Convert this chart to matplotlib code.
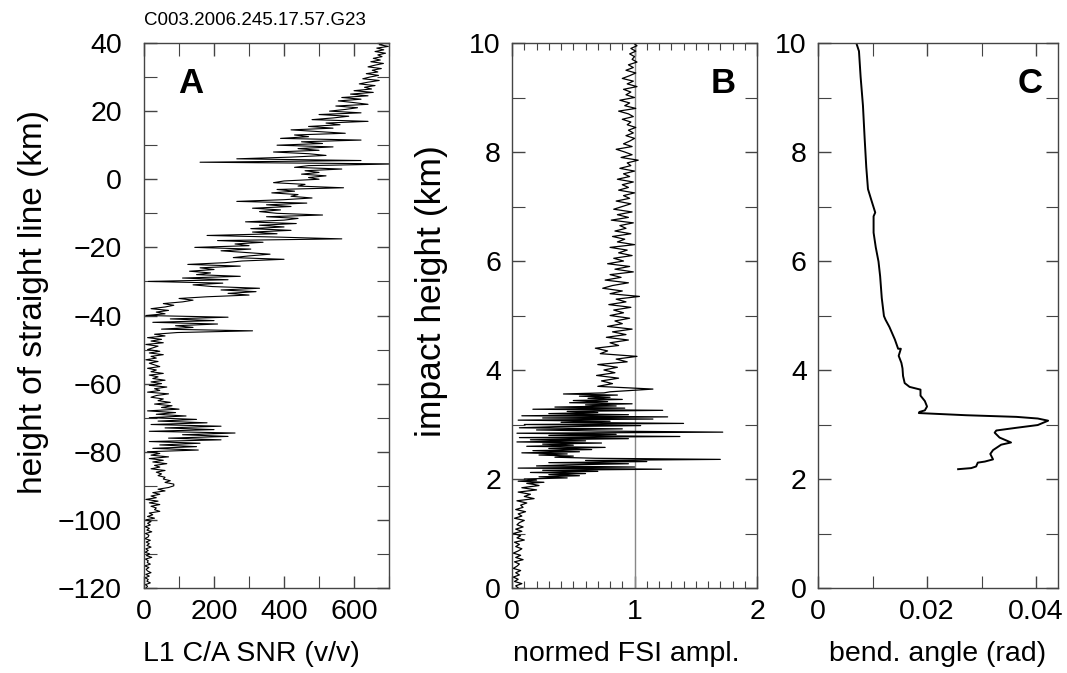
import numpy as np
import matplotlib
matplotlib.use("Agg")
import matplotlib.pyplot as plt
from matplotlib.ticker import MultipleLocator, FuncFormatter

plt.rcParams['font.family'] = ['Liberation Sans', 'DejaVu Sans']

title = "C003.2006.245.17.57.G23"

# panel A: SNR sampled every 0.5 km from 40 down to -120 km
snr_top, snr_bottom = 40.0, -120.0
snr = [
    690, 672, 698, 665, 685, 660, 690, 668, 680, 655,   # 40 .. 35.5
    675, 648, 684, 660, 640, 678, 652, 668, 635, 670,   # 35 .. 30.5
    645, 625, 672, 640, 615, 660, 630, 650, 600, 655,   # 30 .. 25.5
    590, 640, 565, 620, 555, 600, 640, 548, 610, 575,   # 25 .. 20.5
    530, 620, 500, 585, 540, 480, 640, 520, 560, 470,   # 20 .. 15.5
    540, 420, 500, 575, 430, 470, 390, 620, 450, 510,   # 15 .. 10.5
    380, 540, 440, 500, 370, 470, 520, 420, 265, 620,   # 10 .. 5.5
    160, 720, 470, 430, 565, 460, 500, 450, 520, 470,   # 5 .. 0.5
    500, 400, 370, 460, 440, 570, 380, 430, 365, 440,   # 0 .. -4.5
    420, 480, 400, 265, 465, 350, 420, 310, 390, 330,   # -5 .. -9.5
    380, 510, 350, 440, 400, 290, 435, 330, 400, 305,   # -10 .. -14.5
    420, 310, 380, 180, 390, 565, 210, 340, 260, 300,   # -15 .. -19.5
    145, 305, 220, 290, 360, 300, 255, 400, 280, 230,   # -20 .. -24.5
    125, 275, 160, 200, 130, 190, 150, 275, 110, 240,   # -25 .. -29.5
    12, 225, 140, 195, 330, 220, 320, 240, 300, 180,    # -30 .. -34.5
    100, 140, 110, 55, 85, 60, 20, 70, 35, 60,          # -35 .. -39.5
    5, 240, 75, 200, 25, 210, 90, 140, 50, 310,         # -40 .. -44.5
    95, 30, 60, 10, 50, 20, 55, 5, 40, 25,              # -45 .. -49.5
    10, 45, 15, 55, 20, 35, 5, 40, 15, 30,              # -50 .. -54.5
    45, 10, 35, 20, 55, 15, 40, 25, 60, 20,             # -55 .. -59.5
    50, 15, 65, 30, 45, 10, 70, 35, 20, 55,             # -60 .. -64.5
    40, 75, 30, 80, 50, 100, 10, 90, 35, 120,           # -65 .. -69.5
    15, 150, 40, 180, 20, 220, 60, 200, 15, 260,        # -70 .. -74.5
    110, 240, 70, 220, 15, 160, 45, 150, 25, 155,       # -75 .. -79.5
    10, 45, 20, 70, 15, 55, 25, 65, 30, 45,             # -80 .. -84.5
    20, 60, 35, 50, 40, 60, 55, 75, 60, 85,             # -85 .. -89.5
    85, 70, 40, 60, 25, 45, 20, 35, 5, 40,              # -90 .. -94.5
    15, 45, 20, 35, 30, 45, 15, 25, 10, 30,             # -95 .. -99.5
    5, 20, 10, 18, 3, 15, 8, 22, 4, 14,                 # -100 .. -104.5
    12, 2, 18, 6, 15, 8, 20, 5, 12, 3,                  # -105 .. -109.5
    16, 7, 22, 4, 12, 9, 18, 2, 14, 6,                  # -110 .. -114.5
    10, 20, 5, 15, 3, 12, 8, 18, 4, 10,                 # -115 .. -119.5
    6,                                                  # -120
]

# panel B: normed FSI amplitude, three pieces with their own sampling
fsi_upper = [                                           # 10 .. 3.65 km, 0.05 step
    0.99, 1.02, 0.97, 1.01, 0.96, 1.00, 0.98, 1.02, 0.95, 0.99,
    0.93, 1.01, 0.96, 0.90, 0.99, 0.94, 1.02, 0.91, 0.97, 0.93,
    1.00, 0.88, 0.96, 0.92, 1.01, 0.87, 0.95, 0.99, 0.90, 0.97,
    0.94, 1.01, 0.95, 0.99, 0.93, 1.00, 0.96, 0.91, 0.98, 0.85,
    0.92, 0.98, 0.89, 1.03, 0.94, 0.97, 0.88, 1.00, 0.91, 0.96,
    0.86, 0.99, 0.90, 0.95, 0.87, 1.00, 0.91, 0.96, 0.85, 0.97,
    0.90, 0.83, 0.98, 0.86, 0.95, 0.81, 0.99, 0.88, 0.93, 0.84,
    0.97, 0.82, 0.92, 0.86, 1.00, 0.80, 0.94, 0.87, 0.98, 0.83,
    0.91, 0.78, 0.96, 0.84, 0.99, 0.80, 0.89, 0.76, 0.95, 0.82,
    0.74, 0.90, 0.80, 1.04, 0.85, 0.93, 0.79, 0.97, 0.83, 0.91,
    0.80, 0.96, 0.84, 0.90, 0.78, 0.98, 0.82, 0.93, 0.77, 0.95,
    0.80, 0.87, 0.68, 0.78, 0.72, 1.02, 0.85, 0.94, 0.70, 0.86,
    0.75, 0.84, 0.69, 0.87, 0.73, 0.82, 0.70, 1.15,
]
fsi_middle = [                                          # 3.60 .. 1.90 km, 0.02 step
    0.80, 0.75, 0.42, 0.86, 0.55, 0.80, 0.62, 0.90, 0.50, 0.78,
    0.47, 0.98, 0.60, 0.85, 0.35, 0.92, 0.17, 1.23, 0.45, 0.70,
    0.30, 0.95, 0.08, 1.27, 0.25, 1.15, 0.05, 0.80, 0.40, 1.40,
    0.10, 1.05, 0.35, 0.06, 0.90, 0.20, 0.70, 1.72, 0.04, 0.85,
    0.30, 1.37, 0.06, 0.95, 0.15, 0.60, 0.04, 0.73, 0.25, 0.50,
    0.12, 0.76, 0.30, 0.65, 0.17, 0.55, 0.08, 0.45, 0.22, 0.50,
    0.35, 0.68, 1.70, 0.60, 1.10, 0.30, 0.95, 0.45, 0.20, 1.00,
    0.05, 1.22, 0.25, 0.70, 0.15, 0.60, 0.30, 0.55, 0.22, 0.45,
    0.10, 0.20, 0.05, 0.26, 0.12, 0.18,
]
fsi_lower = [                                           # 1.88 .. 0 km, 0.04 step
    0.22, 0.08, 0.20, 0.05, 0.15, 0.10, 0.18, 0.04, 0.12, 0.07,
    0.09, 0.03, 0.11, 0.05, 0.08, 0.02, 0.10, 0.06, 0.04, 0.09,
    0.03, 0.08, 0.01, 0.07, 0.04, 0.10, 0.02, 0.06, 0.03, 0.08,
    0.05, 0.01, 0.07, 0.03, 0.09, 0.02, 0.06, 0.04, 0.01, 0.07,
    0.03, 0.06, 0.01, 0.05, 0.02, 0.08, 0.03, 0.05,
]

# panel C: bending angle profile
bend_h = [10.0, 9.85, 9.38, 8.85, 8.25, 7.72, 7.32, 7.12, 6.89, 6.82, 6.52,
          6.25, 5.99, 5.72, 5.32, 4.99, 4.92, 4.79, 4.56, 4.39, 4.39, 4.26,
          4.13, 4.03, 3.89, 3.76, 3.69, 3.66, 3.64, 3.53, 3.43, 3.33, 3.26,
          3.23, 3.21, 3.17, 3.14, 3.11, 3.07, 2.99, 2.94, 2.89, 2.85, 2.76,
          2.67, 2.63, 2.53, 2.46, 2.36, 2.32, 2.30, 2.23, 2.20, 2.18]
bend = [0.00703, 0.00752, 0.00782, 0.00825, 0.00856, 0.00886, 0.00917,
        0.00978, 0.0105, 0.0102, 0.0102, 0.0106, 0.0111, 0.0114, 0.0117,
        0.0121, 0.0124, 0.0131, 0.0141, 0.0147, 0.0152, 0.0148, 0.0153,
        0.0155, 0.0156, 0.0159, 0.0168, 0.0180, 0.0188, 0.0188, 0.0196,
        0.0200, 0.0196, 0.0186, 0.0185, 0.0272, 0.0364, 0.0403, 0.0422,
        0.0403, 0.0364, 0.0327, 0.0324, 0.0333, 0.0354, 0.0336, 0.0321,
        0.0316, 0.0321, 0.0306, 0.0293, 0.0290, 0.0281, 0.0257]

snr_h = np.linspace(snr_top, snr_bottom, len(snr))
fsi_h = np.concatenate([np.linspace(10.0, 3.65, len(fsi_upper)),
                        np.linspace(3.60, 1.90, len(fsi_middle)),
                        np.linspace(1.88, 0.0, len(fsi_lower))])
fsi = fsi_upper + fsi_middle + fsi_lower

fig = plt.figure(figsize=(10.67, 6.73), dpi=100)
bottom, height = 0.1263, 0.8098
axA = fig.add_axes([0.1350, bottom, 0.2296, height])
axB = fig.add_axes([0.4799, bottom, 0.2296, height])
axC = fig.add_axes([0.7666, bottom, 0.2249, height])

fmt = FuncFormatter(lambda v, p: f"{v:g}".replace("-", "\u2212"))


def style(ax):
    for s in ax.spines.values():
        s.set_color("#444444")
        s.set_linewidth(1.0)
    ax.tick_params(which="both", direction="in", top=True, right=True,
                   labelsize=20.5, color="#444444")
    ax.tick_params(which="major", length=9, width=1.0, pad=8)
    ax.tick_params(which="minor", length=5, width=0.8)
    ax.xaxis.set_major_formatter(fmt)
    ax.yaxis.set_major_formatter(fmt)


axA.plot(snr, snr_h, color="black", lw=0.8)
axA.set_xlim(0, 700)
axA.set_ylim(-120, 40)
axA.xaxis.set_major_locator(MultipleLocator(200))
axA.xaxis.set_minor_locator(MultipleLocator(100))
axA.yaxis.set_major_locator(MultipleLocator(20))
axA.yaxis.set_minor_locator(MultipleLocator(10))
style(axA)
axA.tick_params(which="minor", length=9)
axA.tick_params(axis="y", pad=16)
axA.set_xlabel("L1 C/A SNR (v/v)", fontsize=20.5)
axA.xaxis.set_label_coords(0.44, -0.098)
axA.set_ylabel("height of straight line (km)", fontsize=24)
axA.yaxis.set_label_coords(-0.39, 0.525)
axA.text(0.0, 1.025, title, transform=axA.transAxes, fontsize=13.5,
         ha="left", va="bottom")
axA.text(0.19, 0.925, "A", transform=axA.transAxes, fontsize=25,
         fontweight="bold", ha="center", va="center")

axB.axvline(1.0, color="#888888", lw=1.0)
axB.plot(fsi, fsi_h, color="black", lw=0.9)
axB.set_xlim(0, 2)
axB.set_ylim(0, 10)
axB.xaxis.set_major_locator(MultipleLocator(1))
axB.xaxis.set_minor_locator(MultipleLocator(0.1))
axB.yaxis.set_major_locator(MultipleLocator(2))
axB.yaxis.set_minor_locator(MultipleLocator(1))
style(axB)
axB.tick_params(axis="y", which="minor", length=9)
axB.set_xlabel("normed FSI ampl.", fontsize=20.5)
axB.xaxis.set_label_coords(0.465, -0.098)
axB.set_ylabel("impact height (km)", fontsize=25.5)
axB.yaxis.set_label_coords(-0.26, 0.545)
axB.text(0.86, 0.925, "B", transform=axB.transAxes, fontsize=25,
         fontweight="bold", ha="center", va="center")

axC.plot(bend, bend_h, color="black", lw=1.4)
axC.set_xlim(0, 0.044)
axC.set_ylim(0, 10)
axC.xaxis.set_major_locator(MultipleLocator(0.02))
axC.xaxis.set_minor_locator(MultipleLocator(0.01))
axC.yaxis.set_major_locator(MultipleLocator(2))
axC.yaxis.set_minor_locator(MultipleLocator(1))
style(axC)
axC.tick_params(which="minor", length=9)
axC.set_xlabel("bend. angle (rad)", fontsize=20.5)
axC.xaxis.set_label_coords(0.5, -0.098)
axC.text(0.885, 0.925, "C", transform=axC.transAxes, fontsize=25,
         fontweight="bold", ha="center", va="center")

fig.savefig("out.png", dpi=100)
